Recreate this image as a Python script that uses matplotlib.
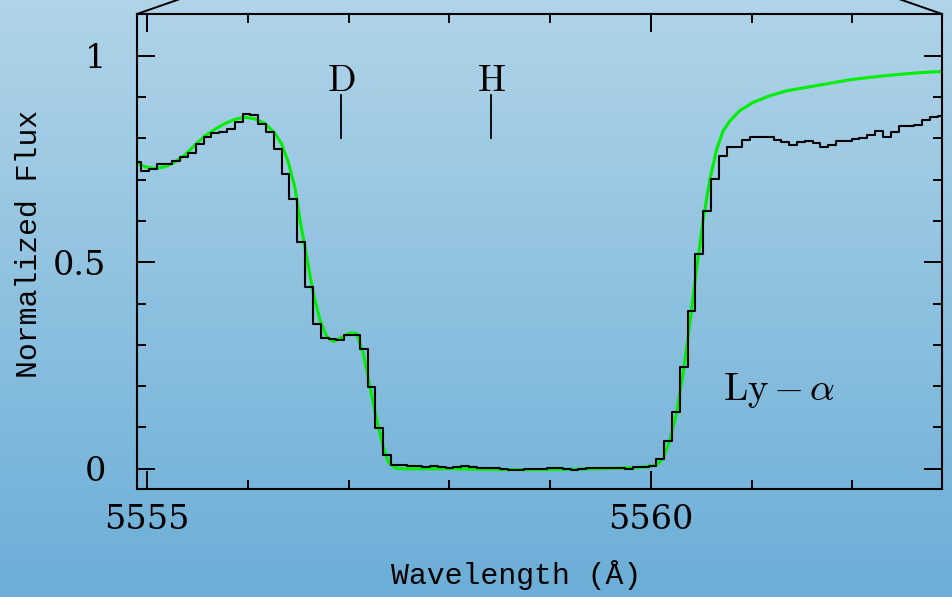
import matplotlib
matplotlib.use('Agg')
import matplotlib.pyplot as plt
import numpy as np
from matplotlib.lines import Line2D
from matplotlib.ticker import MultipleLocator

# Observed spectrum, one value per pixel (pixel size ~0.0775 A)
wave0 = 5554.902
dwave = 0.0775
flux = [0.742, 0.720, 0.725, 0.737, 0.739, 0.745, 0.755, 0.765, 0.787, 0.802,
        0.812, 0.815, 0.823, 0.840, 0.859, 0.856, 0.835, 0.815, 0.774, 0.714,
        0.652, 0.549, 0.441, 0.351, 0.316, 0.314, 0.311, 0.324, 0.324, 0.289,
        0.199, 0.099, 0.034, 0.009, 0.009, 0.007, 0.007, 0.005, 0.007, 0.004,
        0.002, 0.005, 0.006, 0.004, 0.002, 0.002, 0.002, -0.001, -0.003, -0.002,
        -0.001, 0.000, -0.001, 0.003, 0.001, -0.001, -0.004, -0.001, 0.003, 0.003,
        0.001, 0.001, 0.003, -0.001, 0.004, 0.004, 0.007, 0.023, 0.067, 0.138,
        0.247, 0.383, 0.521, 0.623, 0.702, 0.757, 0.780, 0.780, 0.796, 0.802,
        0.804, 0.802, 0.795, 0.790, 0.785, 0.790, 0.794, 0.788, 0.780, 0.784,
        0.793, 0.794, 0.798, 0.801, 0.808, 0.818, 0.802, 0.815, 0.831, 0.831,
        0.833, 0.844, 0.851, 0.855]
wave = wave0 + dwave * np.arange(len(flux))

# Model fit (green)
model_wave = [5554.898, 5554.980, 5555.079, 5555.179, 5555.278, 5555.377, 5555.476,
              5555.575, 5555.675, 5555.774, 5555.873, 5555.972, 5556.071, 5556.171,
              5556.270, 5556.336, 5556.402, 5556.468, 5556.518, 5556.584, 5556.650,
              5556.716, 5556.783, 5556.848, 5556.915, 5557.014, 5557.080, 5557.146,
              5557.212, 5557.279, 5557.344, 5557.394, 5557.460, 5557.510, 5558.006,
              5558.502, 5558.998, 5559.494, 5559.891, 5560.057, 5560.122, 5560.188,
              5560.255, 5560.321, 5560.387, 5560.453, 5560.519, 5560.585, 5560.652,
              5560.717, 5560.784, 5560.883, 5561.015, 5561.181, 5561.346, 5561.677,
              5562.007, 5562.338, 5562.669, 5562.900]
model_flux = [0.740, 0.731, 0.727, 0.731, 0.743, 0.760, 0.784,
              0.806, 0.822, 0.836, 0.846, 0.851, 0.847, 0.836,
              0.812, 0.786, 0.742, 0.680, 0.602, 0.513, 0.425,
              0.360, 0.320, 0.308, 0.316, 0.329, 0.328, 0.279,
              0.199, 0.118, 0.053, 0.017, 0.002, 0.000, 0.000,
              -0.002, -0.002, 0.000, 0.003, 0.009, 0.025, 0.069,
              0.134, 0.231, 0.352, 0.481, 0.602, 0.699, 0.772,
              0.818, 0.842, 0.867, 0.887, 0.903, 0.915, 0.929,
              0.943, 0.952, 0.959, 0.962]

# line markers
line_names = ['D', 'H']
line_waves = [5556.925, 5558.413]

xticks_major = [5555, 5560]
yticks_major = [0, 0.5, 1]
ytick_labels = ['0', '0.5', '1']

plt.rcParams['mathtext.fontset'] = 'cm'

fig = plt.figure(figsize=(9.53, 5.97), dpi=100)

# Gradient background
bg = fig.add_axes([0, 0, 1, 1], zorder=-10)
grad = np.linspace(0, 1, 256).reshape(-1, 1)
top = np.array([176, 212, 232]) / 255.0
bot = np.array([108, 174, 215]) / 255.0
img = top[None, None, :] * (1 - grad[:, :, None]) + bot[None, None, :] * grad[:, :, None]
bg.imshow(img, aspect='auto', extent=[0, 1, 0, 1])
bg.axis('off')

ax = fig.add_axes([137/953, 1 - 489/597, 805/953, 475/597])
ax.patch.set_alpha(0)

ax.plot(model_wave, model_flux, color='#00ee00', lw=2.2, zorder=2)
ax.step(wave, flux, where='mid', color='black', lw=1.5, zorder=3)

ax.set_xlim(5554.90, 5562.89)
ax.set_ylim(-0.049, 1.101)

ax.set_xticks(xticks_major)
ax.xaxis.set_minor_locator(MultipleLocator(1))
ax.set_yticks(yticks_major)
ax.set_yticklabels(ytick_labels)
ax.yaxis.set_minor_locator(MultipleLocator(0.1))

ax.tick_params(which='both', direction='in', top=True, right=True, width=1.4, colors='black')
ax.tick_params(which='major', length=13)
ax.tick_params(which='minor', length=6.5)
ax.tick_params(axis='x', which='major', pad=11, labelsize=24)
ax.tick_params(axis='y', which='major', pad=22, labelsize=24)
for lab in ax.get_xticklabels() + ax.get_yticklabels():
    lab.set_fontfamily('DejaVu Serif')
for s in ax.spines.values():
    s.set_linewidth(1.5)

ax.set_xlabel('Wavelength (Å)', fontsize=21.5, family='Liberation Mono')
ax.xaxis.set_label_coords(0.471, -0.15)
ax.set_ylabel('Normalized Flux', fontsize=21.5, family='Liberation Mono', va='center')
ax.yaxis.set_label_coords(-0.134, 0.516)

for name, w in zip(line_names, line_waves):
    ax.plot([w, w], [0.80, 0.905], color='black', lw=1.3)
    ax.text(w, 0.915, r'$\mathrm{%s}$' % name, fontsize=27, ha='center', va='baseline')

ax.text(5560.714, 0.166, r'$\mathrm{Ly}\,{-}\,\alpha$', fontsize=28, ha='left', va='baseline')

# zoom connector lines at the top corners
fig.add_artist(Line2D([137/953, 180/953], [1 - 14/597, 1 + 1/597], color='black', lw=1.4))
fig.add_artist(Line2D([942/953, 899/953], [1 - 14/597, 1 + 1/597], color='black', lw=1.4))

fig.savefig('out.png', dpi=100)
